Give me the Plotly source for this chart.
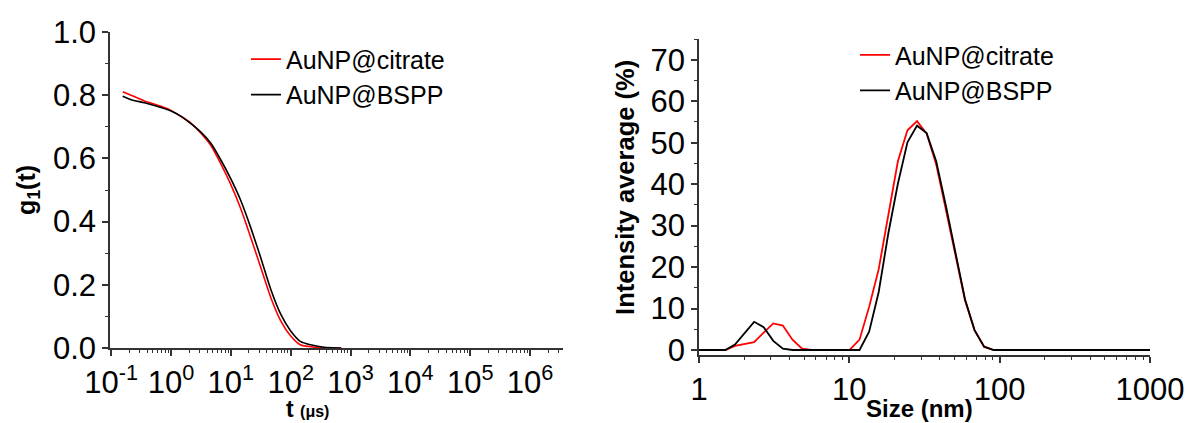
import plotly.graph_objects as go

# ---- Left panel: correlation function g1(t) ----
t_us = [0.156, 0.215, 0.36, 0.68, 1.0, 1.47, 2.15, 3.16, 4.64, 6.81, 10.0, 14.7,
        21.5, 31.6, 46.4, 68.1, 100.0, 147.0, 215.0, 316.0, 500.0, 700.0]
g1_citrate = [0.811, 0.800, 0.782, 0.765, 0.752, 0.733, 0.712, 0.680, 0.641, 0.583, 0.517, 0.440,
              0.350, 0.255, 0.160, 0.086, 0.038, 0.0095, 0.004, 0.001, 0.0, 0.0]
g1_bspp = [0.797, 0.786, 0.776, 0.761, 0.750, 0.733, 0.710, 0.683, 0.648, 0.595, 0.535, 0.466,
           0.381, 0.286, 0.186, 0.107, 0.054, 0.020, 0.010, 0.004, 0.0005, 0.0]

# ---- Right panel: intensity size distribution ----
size_nm = [0.964, 1.116, 1.293, 1.497, 1.734, 2.008, 2.326, 2.693, 3.119, 3.612, 4.184, 4.845,
           5.611, 6.498, 7.525, 8.715, 10.09, 11.69, 13.54, 15.68, 18.16, 21.03, 24.35, 28.20,
           32.66, 37.82, 43.80, 50.73, 58.75, 68.03, 78.79, 91.25, 105.7, 122.4, 141.7, 164.1,
           190.1, 220.1, 254.9, 295.2, 341.9, 396.0, 458.6, 531.1, 615.0, 712.3, 824.9, 955.3, 1106.0]
int_citrate = [0, 0, 0, 0, 1.0, 1.4, 1.9, 4.2, 6.4, 5.9, 2.5, 0.3,
               0, 0, 0, 0, 0.1, 2.5, 10.4, 19.5, 33.0, 45.5, 53.0, 55.2,
               52.2, 44.8, 34.0, 23.2, 12.0, 4.8, 0.8, 0, 0, 0, 0, 0,
               0, 0, 0, 0, 0, 0, 0, 0, 0, 0, 0, 0, 0]
int_bspp = [0, 0, 0, 0, 1.3, 4.1, 6.8, 5.5, 2.2, 0.3, 0, 0,
            0, 0, 0, 0, 0, 0, 4.4, 14.0, 28.1, 40.1, 50.1, 54.1,
            52.3, 45.5, 34.9, 23.6, 12.3, 4.8, 0.8, 0, 0, 0, 0, 0,
            0, 0, 0, 0, 0, 0, 0, 0, 0, 0, 0, 0, 0]

series_names = ["AuNP@citrate", "AuNP@BSPP"]
series_colors = ["#ff0000", "#000000"]

left_tickvals = [0.1, 1, 10, 100, 1000, 1e4, 1e5, 1e6]
left_ticktext = ["10<sup>-1</sup>", "10<sup>0</sup>", "10<sup>1</sup>", "10<sup>2</sup>",
                 "10<sup>3</sup>", "10<sup>4</sup>", "10<sup>5</sup>", "10<sup>6</sup>"]
right_tickvals = [1, 10, 100, 1000]
right_ticktext = ["1", "10", "100", "1000"]

FONT = "Liberation Sans, Arial, sans-serif"
AX = "#333333"

fig = go.Figure()
for name, col, ys in zip(series_names, series_colors, [g1_citrate, g1_bspp]):
    fig.add_trace(go.Scatter(x=t_us, y=ys, mode="lines", name=name,
                             line=dict(color=col, width=1.6, shape="spline", smoothing=0.6),
                             xaxis="x", yaxis="y", legend="legend"))
for name, col, ys in zip(series_names, series_colors, [int_citrate, int_bspp]):
    fig.add_trace(go.Scatter(x=size_nm, y=ys, mode="lines", name=name,
                             line=dict(color=col, width=1.8),
                             xaxis="x2", yaxis="y2", legend="legend2"))

common = dict(showline=True, linecolor=AX, linewidth=1.5, ticks="outside", ticklen=6,
              tickwidth=1.5, tickcolor=AX, showgrid=False, zeroline=False, automargin=False,
              tickfont=dict(family=FONT, size=31, color="#000"))

fig.update_layout(
    width=1190, height=423,
    margin=dict(l=0, r=0, t=0, b=0, pad=0, autoexpand=False),
    paper_bgcolor="white", plot_bgcolor="white",
    font=dict(family=FONT, color="#000"),
    xaxis=dict(type="log", range=[-1.02, 6.55], domain=[0.0924, 0.4731], anchor="y",
               tickvals=left_tickvals, ticktext=left_ticktext,
               minor=dict(ticks="outside", ticklen=3, tickcolor=AX, tickwidth=1, dtick="D1"),
               **common),
    yaxis=dict(range=[0, 1], domain=[0.1773, 0.9243], anchor="x", dtick=0.2, tickformat=".1f",
               minor=dict(ticks="outside", ticklen=3, tickcolor=AX, tickwidth=1, dtick=0.1),
               **common),
    xaxis2=dict(type="log", range=[0, 3], domain=[0.5874, 0.9664], anchor="y2",
                tickvals=right_tickvals, ticktext=right_ticktext,
                minor=dict(ticks="outside", ticklen=3, tickcolor=AX, tickwidth=1, dtick="D1"),
                **common),
    yaxis2=dict(range=[-1.2, 75], domain=[0.1608, 0.9078], anchor="x2", dtick=10,
                minor=dict(ticks="outside", ticklen=3, tickcolor=AX, tickwidth=1, dtick=5),
                **common),
    legend=dict(x=0.2067, y=0.914, xanchor="left", yanchor="top", bgcolor="rgba(0,0,0,0)",
                font=dict(family=FONT, size=25, color="#000"), tracegroupgap=0),
    legend2=dict(x=0.7185, y=0.924, xanchor="left", yanchor="top", bgcolor="rgba(0,0,0,0)",
                 font=dict(family=FONT, size=25, color="#000"), tracegroupgap=0),
    showlegend=True,
)

ann = dict(xref="paper", yref="paper", showarrow=False, xanchor="center", yanchor="middle")
fig.add_annotation(text="<b>g<sub>1</sub>(t)</b>", textangle=-90, x=0.0235, y=0.551,
                   font=dict(family=FONT, size=25), **ann)
fig.add_annotation(text="<b>t <span style='font-size:16px'>(μs)</span></b>", x=0.258, y=0.034,
                   font=dict(family=FONT, size=23), **ann)
fig.add_annotation(text="<b>Intensity average (%)</b>", textangle=-90, x=0.5252, y=0.558,
                   font=dict(family=FONT, size=25.5), **ann)
fig.add_annotation(text="<b>Size (nm)</b>", x=0.773, y=0.035,
                   font=dict(family=FONT, size=24), **ann)

fig.write_html("out.html", config={"displayModeBar": False},
               post_script="document.body.style.margin='0px';")
